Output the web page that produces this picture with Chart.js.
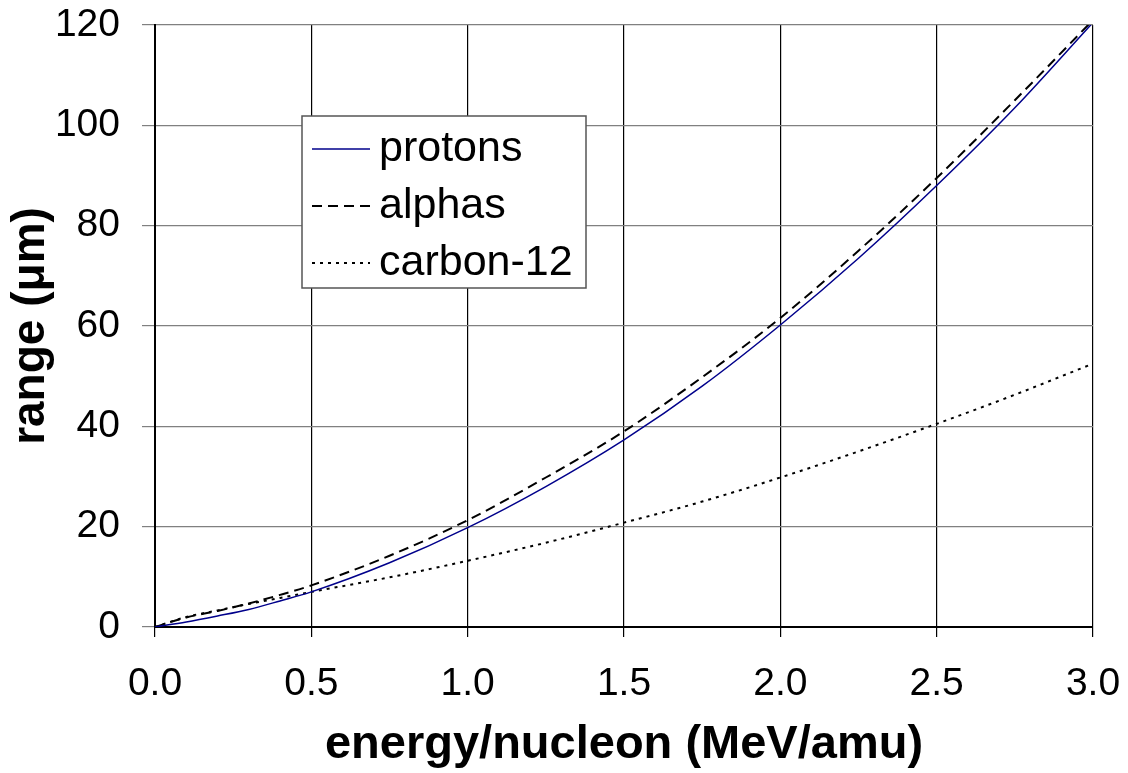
<!DOCTYPE html>
<html>
<head>
<meta charset="utf-8">
<script src="https://cdn.jsdelivr.net/npm/chart.js@4.4.0/dist/chart.umd.min.js"></script>
<style>
  html, body { margin: 0; padding: 0; background: #fff; }
  #wrap { width: 1128px; height: 773px; }
</style>
</head>
<body>
<div id="wrap"><canvas id="rangeChart" width="1128" height="773"></canvas></div>
<script>
var energy = [0, 0.1, 0.2, 0.3, 0.4, 0.5, 0.75, 1.0, 1.25, 1.5, 1.75, 2.0, 2.25, 2.5, 2.75, 3.0];
var protons = [0, 1.0, 2.2, 3.5, 5.2, 7.0, 12.8, 19.8, 28.0, 37.3, 48.0, 60.2, 73.5, 88.0, 103.5, 120.5];
var alphas = [0, 1.9, 3.2, 4.7, 6.4, 8.3, 14.2, 21.3, 29.8, 39.0, 49.8, 61.6, 75.0, 89.5, 105.0, 121.0];
var carbon12 = [0, 2.0, 3.3, 4.6, 5.8, 7.0, 9.9, 13.2, 16.8, 20.8, 25.0, 29.8, 35.0, 40.5, 46.3, 52.5];

var FONT = "'Liberation Sans', Arial, sans-serif";

function toPoints(values) {
  return values.map(function (v, i) {
    return { x: energy[i], y: v };
  });
}

// stop the tick labels from pushing the plot area inwards
function noOverhang(scale) {
  scale.paddingTop = 0;
  scale.paddingBottom = 0;
  scale.paddingLeft = 0;
  scale.paddingRight = 0;
}

const ctx = document.getElementById("rangeChart");

// legend drawn as a box inside the plot, like the original
var boxLegend = {
  id: "boxLegend",
  afterDraw: function (chart) {
    var c = chart.ctx;
    var left = 302, top = 116, w = 284, h = 172;
    c.save();
    c.fillStyle = "#fff";
    c.fillRect(left, top, w, h);
    c.strokeStyle = "#555";
    c.lineWidth = 1.5;
    c.strokeRect(left, top, w, h);
    c.font = "43px " + FONT;
    c.textBaseline = "middle";
    chart.data.datasets.forEach(function (ds, i) {
      var y = top + 33 + i * 57;
      c.strokeStyle = ds.borderColor;
      c.lineWidth = ds.borderWidth;
      c.setLineDash(ds.borderDash || []);
      c.beginPath();
      c.moveTo(left + 10, y);
      c.lineTo(left + 68, y);
      c.stroke();
      c.setLineDash([]);
      c.fillStyle = "#000";
      c.fillText(ds.label, left + 77, y);
    });
    c.restore();
  }
};

var chart = new Chart(ctx, {
  type: "scatter",
  data: {
    datasets: [
      {
        label: "protons",
        data: toPoints(protons),
        showLine: true,
        borderColor: "#00008b",
        borderWidth: 1.5,
        pointRadius: 0,
        cubicInterpolationMode: "monotone",
      },
      {
        label: "alphas",
        data: toPoints(alphas),
        showLine: true,
        borderColor: "#000",
        borderWidth: 2,
        borderDash: [10, 6],
        pointRadius: 0,
        cubicInterpolationMode: "monotone",
      },
      {
        label: "carbon-12",
        data: toPoints(carbon12),
        showLine: true,
        borderColor: "#000",
        borderWidth: 2,
        borderDash: [3, 5],
        pointRadius: 0,
        cubicInterpolationMode: "monotone",
      },
    ],
  },
  options: {
    responsive: false,
    animation: false,
    layout: { padding: { top: 25, right: 35, left: 0, bottom: 0 } },
    plugins: {
      legend: { display: false },
      tooltip: { enabled: false },
    },
    scales: {
      x: {
        type: "linear",
        min: 0,
        max: 3,
        ticks: {
          stepSize: 0.5,
          color: "#000",
          padding: 24,
          font: { family: FONT, size: 39 },
          callback: function (v) { return v.toFixed(1); },
        },
        grid: { color: "#000", lineWidth: 1.2, tickLength: 10 },
        border: { color: "#000", width: 2 },
        title: {
          display: true,
          text: "energy/nucleon (MeV/amu)",
          color: "#000",
          padding: { top: 0, bottom: 0 },
          font: { family: FONT, size: 47, weight: "bold" },
        },
        afterFit: function (scale) {
          scale.height = 146;
          noOverhang(scale);
        },
      },
      y: {
        min: 0,
        max: 120,
        ticks: {
          stepSize: 20,
          color: "#000",
          padding: 22,
          font: { family: FONT, size: 39 },
        },
        grid: { color: "#808080", lineWidth: 1.2, tickLength: 13 },
        border: { color: "#000", width: 2 },
        title: {
          display: true,
          text: "range (\u03bcm)",
          color: "#000",
          padding: { top: 4, bottom: 0 },
          font: { family: FONT, size: 46, weight: "bold" },
        },
        afterFit: function (scale) {
          scale.width = 155;
          noOverhang(scale);
        },
      },
    },
  },
  plugins: [boxLegend],
});
</script>
</body>
</html>
